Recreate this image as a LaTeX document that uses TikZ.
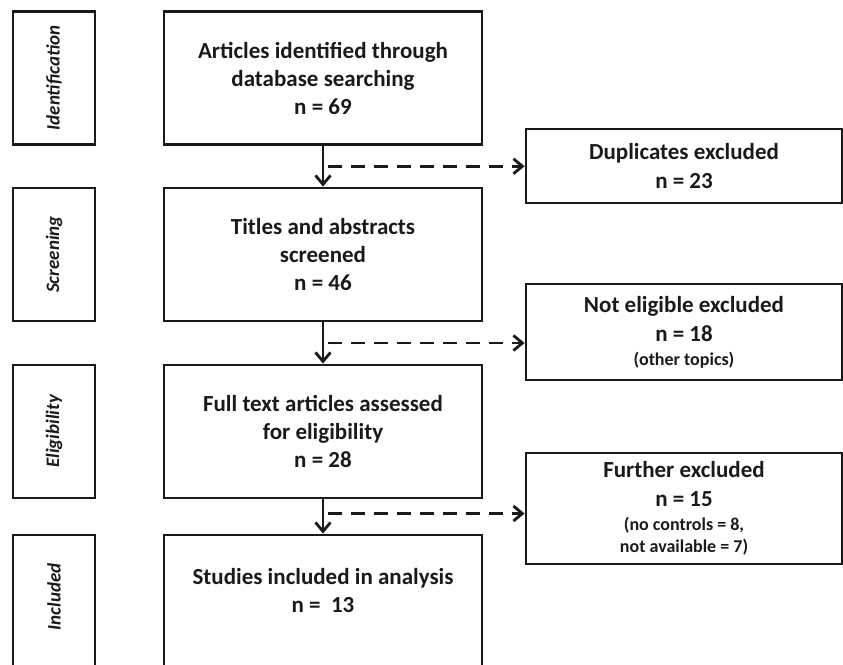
\documentclass[tikz,border=0pt]{standalone}
\usepackage{fontspec}
\setmainfont{Carlito}
\usetikzlibrary{arrows.meta,calc}
\definecolor{ink}{HTML}{1A1A1A}
\begin{document}
\begin{tikzpicture}[x=1pt,y=-1pt,
  box/.style={draw=ink, text=ink, line width=2.8pt, inner sep=0pt, align=center},
  mainbox/.style={box, minimum width=318pt, minimum height=133pt, font=\bfseries\fontsize{23}{28}\selectfont},
  sidebox/.style={box, minimum width=82pt, minimum height=133pt},
  sidelabel/.style={text=ink, rotate=90, font=\bfseries\itshape\fontsize{19}{22}\selectfont},
  exbox/.style={box, minimum width=316pt, font=\bfseries\fontsize{23}{29}\selectfont},
  flow/.style={draw=ink, line width=2.8pt, -{Straight Barb[length=9pt,width=15pt]}},
  dashflow/.style={flow, dash pattern=on 14pt off 9pt}]
\useasboundingbox (0,0) rectangle (843,664);
\clip (0,0) rectangle (843,664);
% side boxes
\node[sidebox] (s1) at (54,78) {};
\node[sidelabel] (l1) at (s1) {Identification};
\node[sidebox] (s2) at (54,254.5) {};
\node[sidelabel] (l2) at (s2) {Screening};
\node[sidebox] (s3) at (54,431.5) {};
\node[sidelabel] (l3) at (s3) {Eligibility};
\node[sidebox] (s4) at (54,601.5) {};
\node[sidelabel] (l4) at (54,597) {Included};
% main boxes
\node[mainbox] (b1) at (323,78) {Articles identified through\\database searching\\n = 69};
\node[mainbox] (b2) at (323,254.5) {Titles and abstracts\\screened\\n = 46};
\node[mainbox] (b3) at (323,431.5) {Full text articles assessed\\for eligibility\\n = 28};
\node[mainbox] (b4) at (323,601.5) {};
\node[text=ink, align=center, font=\bfseries\fontsize{23}{28}\selectfont] (t4) at (323,591) {Studies included in analysis\\n =\ \ 13};
% exclusion boxes
\node[exbox, minimum height=74pt] (r1) at (684,166) {Duplicates excluded\\n = 23};
\node[exbox, minimum height=96pt] (r2) at (684,332) {Not eligible excluded\\n = 18\\[-5pt]{\fontsize{18}{22}\selectfont (other topics)}};
\node[exbox, minimum height=111pt] (r3) at (684,508.5) {Further excluded\\n = 15\\[-5pt]{\fontsize{18}{22}\selectfont (no controls = 8,}\\[-7pt]{\fontsize{18}{22}\selectfont not available = 7)}};
% connectors
\coordinate (m1) at ($(b1.south)!0.5!(b2.north)$);
\coordinate (m2) at ($(b2.south)!0.5!(b3.north)$);
\coordinate (m3) at ($(b3.south)!0.5!(b4.north)+(0,-3)$);
\draw[flow] (b1) -- (b2);
\draw[flow] (b2) -- (b3);
\draw[flow] (b3) -- (b4);
\draw[dashflow] ($(m1)+(5,0)$) -- (r1.west |- m1);
\draw[dashflow] ($(m2)+(5,0)$) -- (r2.west |- m2);
\draw[dashflow] ($(m3)+(5,0)$) -- (r3.west |- m3);
\end{tikzpicture}
\end{document}
